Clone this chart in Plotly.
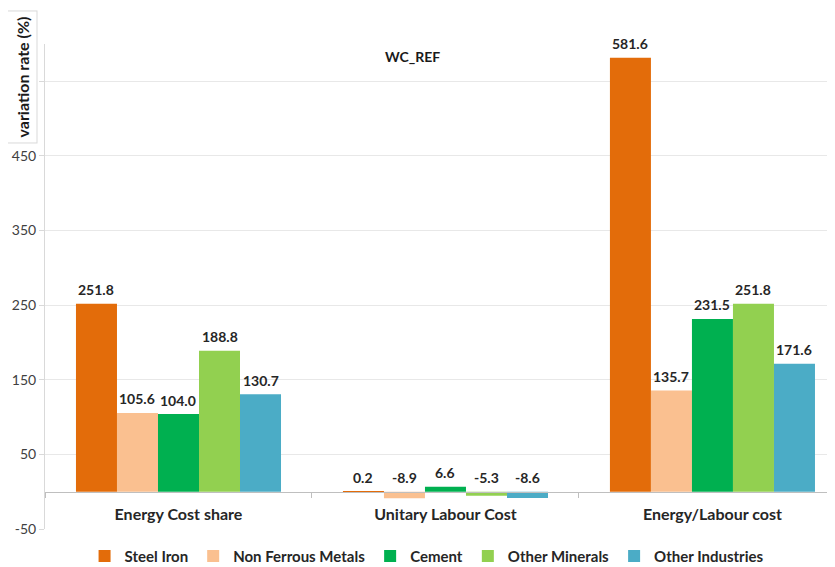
import plotly.graph_objects as go

categories = ["Energy Cost share", "Unitary Labour Cost", "Energy/Labour cost"]
series_names = ["Steel Iron", "Non Ferrous Metals", "Cement", "Other Minerals", "Other Industries"]
steel_iron = [251.8, 0.2, 581.6]
non_ferrous_metals = [105.6, -8.9, 135.7]
cement = [104.0, 6.6, 231.5]
other_minerals = [188.8, -5.3, 251.8]
other_industries = [130.7, -8.6, 171.6]
series_values = [steel_iron, non_ferrous_metals, cement, other_minerals, other_industries]
colors = ["#E36C0A", "#FAC090", "#00B050", "#92D050", "#4BACC6"]

y_tickvals = [-50, 50, 150, 250, 350, 450, 550]
y_ticktext = ["-50", "50", "150", "250", "350", "450", ""]

FONT = "Lato"
bargap = 0.232

fig = go.Figure()
for name, vals, col in zip(series_names, series_values, colors):
    fig.add_trace(go.Bar(x=categories, y=vals, name=name, marker=dict(color=col, line=dict(width=0))))

# data labels
n = len(series_names)
bw = (1 - bargap) / n
annotations = []
for i, vals in enumerate(series_values):
    off = (i - (n - 1) / 2) * bw
    for j, v in enumerate(vals):
        annotations.append(dict(
            x=j + off, y=max(v, 0), xref="x", yref="y", text=f"{v:.1f}",
            showarrow=False, yshift=14, xanchor="center", yanchor="middle",
            font=dict(family=FONT, size=14, color="#262626", weight="bold")))

annotations.append(dict(x=0.4646, y=0.975, xref="paper", yref="paper", text="WC_REF",
                        xanchor="center", yanchor="middle", showarrow=False,
                        font=dict(family=FONT, size=14, color="#1a1a1a", weight="bold")))
annotations.append(dict(x=-0.0285, y=0.932, xref="paper", yref="paper", text="variation rate (%)",
                        xanchor="center", yanchor="middle",
                        textangle=-90, showarrow=False, bgcolor="white", bordercolor="#d9d9d9",
                        borderwidth=1, borderpad=5,
                        font=dict(family=FONT, size=16, color="#1a1a1a", weight="bold")))

fig.update_layout(
    width=827, height=559,
    margin=dict(l=37, r=0, t=36, b=38, autoexpand=False),
    paper_bgcolor="white", plot_bgcolor="white",
    barmode="group", bargap=bargap, bargroupgap=0,
    font=dict(family=FONT),
    annotations=annotations,
    showlegend=True,
    legend=dict(orientation="h", x=0.483, xanchor="center", y=-0.056, yanchor="middle",
                font=dict(family=FONT, size=15, color="#262626", weight="bold"),
                traceorder="normal"),
    xaxis=dict(type="category", range=[-0.5, 2.459], anchor="free", position=50 / 650,
               showline=True, linecolor="#bfbfbf", linewidth=1, ticks="outside", tickson="boundaries",
               ticklen=5, tickcolor="#bfbfbf", showgrid=False, zeroline=False,
               ticklabelstandoff=8,
               tickfont=dict(family=FONT, size=16, color="#262626", weight="bold")),
    yaxis=dict(range=[-50, 600], tickvals=y_tickvals, ticktext=y_ticktext,
               showline=True, linecolor="#d9d9d9", ticks="outside", ticklen=5, tickcolor="#d9d9d9",
               gridcolor="#e8e8e8", zeroline=False,
               tickfont=dict(family=FONT, size=14, color="#404040")),
)

fig.write_html("out.html")
